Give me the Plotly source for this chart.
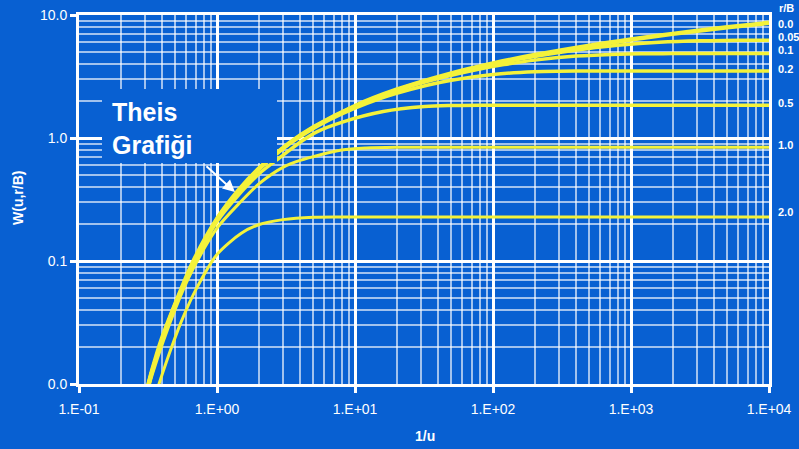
import plotly.graph_objects as go

# ---- data (1/u on x, W(u,r/B) on y) ----
x_theis = [0.31, 0.34, 0.4, 0.5, 0.667, 1, 1.43, 2, 3.33, 5, 10, 20, 50, 100, 200, 500, 1000, 2000, 5000, 10000]
w_theis = [0.0088, 0.0130, 0.0235, 0.045, 0.097, 0.2194, 0.3738, 0.5598, 0.9057, 1.2227, 1.8229, 2.4679, 3.3547,
           4.0379, 4.7261, 5.6394, 6.3316, 7.0242, 7.9402, 8.6332]

x_005 = [0.31, 0.34, 0.5, 1, 2, 3.33, 5, 10, 20, 30, 40, 60, 80, 160, 320, 480, 800, 1600, 3200, 4800, 8000, 10000]
w_005 = [0.0088, 0.0130, 0.045, 0.2193, 0.5594, 0.9047, 1.2209, 1.8184, 2.4576, 2.8406, 3.1142, 3.4995, 3.7709,
         4.4101, 5.0076, 5.3238, 5.6691, 6.0092, 6.1796, 6.2155, 6.2274, 6.228]

x_01 = [0.31, 0.34, 0.5, 1, 2, 3.33, 5, 10, 15, 20, 30, 40, 80, 120, 200, 400, 800, 1200, 2000, 10000]
w_01 = [0.0088, 0.0130, 0.045, 0.2190, 0.5582, 0.9018, 1.2155, 1.8048, 2.1668, 2.4271, 2.7934, 3.0493, 3.6386,
        3.9523, 4.2959, 4.6351, 4.8052, 4.8411, 4.853, 4.854]

x_02 = [0.31, 0.34, 0.5, 1, 2, 3, 5, 6.67, 10, 15, 20, 33.3, 50, 100, 200, 300, 500, 1000, 10000]
w_02 = [0.0088, 0.0130, 0.045, 0.218, 0.553, 0.817, 1.194, 1.422, 1.752, 2.084, 2.311, 2.688, 2.952, 3.288,
        3.457, 3.492, 3.504, 3.505, 3.505]

x_05 = [0.31, 0.34, 0.5, 1, 2, 3, 4, 5.33, 8, 16, 32, 48, 80, 10000]
w_05 = [0.0086, 0.0127, 0.0445, 0.209, 0.508, 0.722, 0.924, 1.127, 1.341, 1.640, 1.801, 1.836, 1.848, 1.849]

x_10 = [0.31, 0.34, 0.5, 0.667, 1, 1.43, 2, 3, 4, 8, 12, 20, 10000]
w_10 = [0.0082, 0.0120, 0.041, 0.085, 0.185, 0.29, 0.421, 0.577, 0.657, 0.798, 0.830, 0.841, 0.842]

x_20 = [0.35, 0.38, 0.45, 0.55, 0.7, 1, 1.5, 2, 3, 5, 10, 10000]
w_20 = [0.0075, 0.0100, 0.0175, 0.032, 0.058, 0.113, 0.168, 0.197, 0.217, 0.2269, 0.2278, 0.2278]

series = [
    ("0.0", x_theis, w_theis),
    ("0.05", x_005, w_005),
    ("0.1", x_01, w_01),
    ("0.2", x_02, w_02),
    ("0.5", x_05, w_05),
    ("1.0", x_10, w_10),
    ("2.0", x_20, w_20),
]
label_y = {"0.0": 24, "0.05": 37, "0.1": 50, "0.2": 69, "0.5": 103, "1.0": 145, "2.0": 212}

x_tickvals = [0.1, 1, 10, 100, 1000, 10000]
x_ticktext = ["1.E-01", "1.E+00", "1.E+01", "1.E+02", "1.E+03", "1.E+04"]
y_tickvals = [0.01, 0.1, 1, 10]
y_ticktext = ["0.0", "0.1", "1.0", "10.0"]

BG = "#0860d2"
YEL = "#f4f23a"
FONT = "Liberation Sans, Arial, sans-serif"

fig = go.Figure()
for name, xs, ws in series:
    width = 4.5 if name == "0.0" else (3 if name in ("1.0", "2.0") else 3.5)
    fig.add_trace(go.Scatter(
        x=xs, y=ws, mode="lines", name=name,
        line=dict(color=YEL, width=width, shape="spline", smoothing=0.8),
        hoverinfo="skip", showlegend=False))

W, H = 799, 449
L, R, T, B = 79, 30, 15, 65
pw, ph = W - L - R, H - T - B

def px2paper(px, py):
    return (px - L) / pw, (H - B - py) / ph

minor_x = [m * 10 ** e for e in range(-1, 4) for m in range(2, 10)]
minor_y = [m * 10 ** e for e in range(-2, 1) for m in range(2, 10)]

annotations = []
annotations.append(dict(text="<b>r/B</b>", xref="paper", yref="paper",
                        x=px2paper(777, 0)[0], y=px2paper(0, 8)[1], xanchor="left", yanchor="middle",
                        showarrow=False, font=dict(color="white", size=11, family=FONT)))
for name, _, _ in series:
    annotations.append(dict(text="<b>%s</b>" % name, xref="paper", yref="paper",
                            x=px2paper(776, 0)[0], y=px2paper(0, label_y[name])[1],
                            xanchor="left", yanchor="middle", showarrow=False,
                            font=dict(color="white", size=11, family=FONT)))
annotations.append(dict(text="<b>Theis<br>Grafiği</b>", xref="paper", yref="paper",
                        x=px2paper(110, 0)[0], y=px2paper(0, 128)[1], xanchor="left", yanchor="middle",
                        align="left", showarrow=False,
                        font=dict(color="white", size=25, family=FONT)))
annotations.append(dict(text="", xref="x", yref="y", x=0.130, y=-0.439, ax=-30, ay=-27,
                        showarrow=True, arrowhead=2, arrowsize=1.2, arrowwidth=2, arrowcolor="white"))
# axis titles
annotations.append(dict(text="<b>1/u</b>", xref="paper", yref="paper",
                        x=px2paper(425, 0)[0], y=px2paper(0, 436)[1], xanchor="center", yanchor="middle",
                        showarrow=False, font=dict(color="white", size=14, family=FONT)))
annotations.append(dict(text="<b>W(u,r/B)</b>", xref="paper", yref="paper", textangle=-90,
                        x=px2paper(18, 0)[0], y=px2paper(0, 198)[1], xanchor="center", yanchor="middle",
                        showarrow=False, font=dict(color="white", size=14, family=FONT)))

bx0, by1 = px2paper(102, 89)
bx1, by0 = px2paper(277, 163)
shapes = [dict(type="rect", xref="paper", yref="paper", x0=bx0, x1=bx1, y0=by0, y1=by1,
               fillcolor=BG, line=dict(width=0), layer="above")]

minor_grid = "rgba(255,255,255,0.62)"
fig.update_layout(
    width=W, height=H,
    margin=dict(l=L, r=R, t=T, b=B, autoexpand=False),
    paper_bgcolor=BG, plot_bgcolor=BG,
    font=dict(family=FONT, color="white", size=14),
    annotations=annotations, shapes=shapes,
    xaxis=dict(type="log", range=[-1, 4], tickmode="array", tickvals=x_tickvals, ticktext=x_ticktext,
               automargin=False,
               showgrid=True, gridcolor="white", gridwidth=3,
               showline=True, linecolor="white", linewidth=3, mirror=True,
               ticks="outside", ticklen=6, tickwidth=3, tickcolor="white",
               ticklabelstandoff=4,
               tickfont=dict(size=14, color="white"),
               minor=dict(tickmode="array", tickvals=minor_x, showgrid=True,
                          gridcolor=minor_grid, gridwidth=1.5, ticks=""),
               zeroline=False),
    yaxis=dict(type="log", range=[-2, 1], tickmode="array", tickvals=y_tickvals, ticktext=y_ticktext,
               automargin=False,
               showgrid=True, gridcolor="white", gridwidth=3,
               showline=True, linecolor="white", linewidth=3, mirror=True,
               ticks="outside", ticklen=6, tickwidth=3, tickcolor="white",
               tickfont=dict(size=14, color="white"),
               minor=dict(tickmode="array", tickvals=minor_y, showgrid=True,
                          gridcolor=minor_grid, gridwidth=1.5, ticks=""),
               zeroline=False),
)

fig.write_html("out.html")
